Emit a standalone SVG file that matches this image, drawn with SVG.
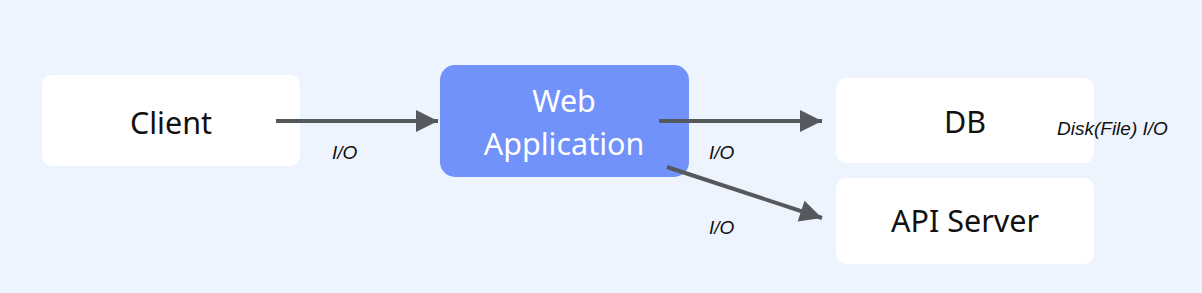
<svg xmlns="http://www.w3.org/2000/svg" width="1202" height="293" viewBox="0 0 1202 293">
<defs>
<style>
.box{fill:#ffffff}
.web{fill:#7191fb}
.t{font-family:"Noto Sans","Open Sans",sans-serif;font-size:30.5px;fill:#111;text-anchor:middle}
.tw{font-family:"Noto Sans","Open Sans",sans-serif;font-size:30.5px;fill:#ffffff;text-anchor:middle}
.lbl{font-family:"Liberation Sans",Arial,sans-serif;font-size:19px;font-style:italic;fill:#111}
.c{stroke:#55595d;stroke-width:4;fill:none}
</style>
<marker id="ah" viewBox="0 0 10 10" refX="10" refY="5" markerWidth="7.5" markerHeight="5.5" markerUnits="strokeWidth" orient="auto">
<path d="M0,0 L10,5 L0,10 z" fill="#55595d"/>
</marker>
</defs>
<rect width="1202" height="293" fill="#eef4fe"/>
<g id="client"><rect class="box" x="42" y="75" width="258" height="91" rx="10"/><text class="t" x="171" y="134">Client</text></g>
<g id="webapp"><rect class="web" x="440" y="65" width="249" height="112" rx="15"/><text class="tw" x="564" y="112">Web</text><text class="tw" x="564" y="155">Application</text></g>
<g id="db"><rect class="box" x="836" y="78" width="258" height="85" rx="10"/><text class="t" x="965" y="133">DB</text></g>
<g id="api"><rect class="box" x="836" y="178" width="258" height="86" rx="10"/><text class="t" x="965" y="232">API Server</text></g>
<g id="connectors">
<line class="c" x1="276" y1="121" x2="438" y2="121" marker-end="url(#ah)"/>
<line class="c" x1="659" y1="121" x2="822" y2="121" marker-end="url(#ah)"/>
<line class="c" x1="667" y1="167" x2="822" y2="218" marker-end="url(#ah)"/>
</g>
<g id="labels">
<text class="lbl" x="332" y="159">I/O</text>
<text class="lbl" x="709" y="159">I/O</text>
<text class="lbl" x="709" y="234">I/O</text>
<text class="lbl" x="1057" y="135">Disk(File) I/O</text>
</g>
</svg>
